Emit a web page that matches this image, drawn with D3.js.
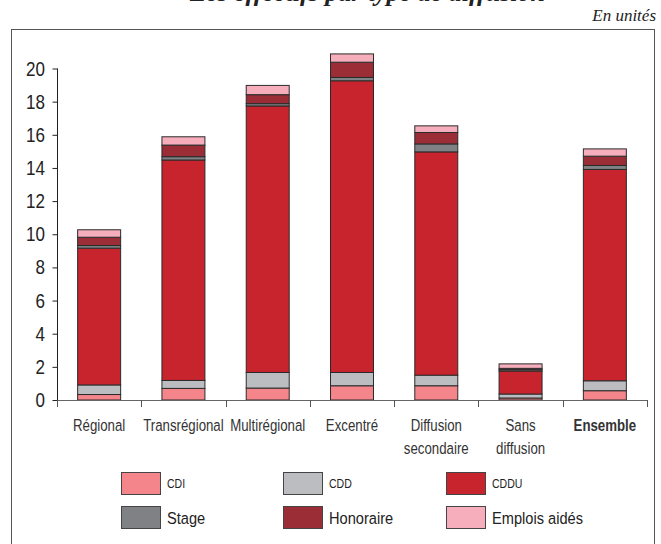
<!DOCTYPE html>
<html><head><meta charset="utf-8">
<script src="https://cdn.jsdelivr.net/npm/d3@7"></script>
<style>
body{margin:0;background:#fff;}
svg{display:block;}
</style></head>
<body><svg id="c" width="661" height="544"></svg>
<script>
const categories = ["Régional","Transrégional","Multirégional","Excentré","Diffusion secondaire","Sans diffusion","Ensemble"];
const labelLines = [["Régional"],["Transrégional"],["Multirégional"],["Excentré"],["Diffusion","secondaire"],["Sans","diffusion"],["Ensemble"]];
const seriesNames = ["CDI","CDD","CDDU","Stage","Honoraire","Emplois aidés"];
const CDI      = [0.33, 0.70, 0.72, 0.86, 0.86, 0.12, 0.56];
const CDD      = [0.58, 0.48, 0.94, 0.80, 0.64, 0.24, 0.60];
const CDDU     = [8.25, 13.30, 16.08, 17.60, 13.47, 1.39, 12.75];
const Stage    = [0.16, 0.20, 0.14, 0.20, 0.48, 0.08, 0.24];
const Honoraire= [0.50, 0.70, 0.54, 0.92, 0.69, 0.08, 0.56];
const Emplois  = [0.45, 0.50, 0.56, 0.50, 0.40, 0.27, 0.44];
const yTicks = [0,2,4,6,8,10,12,14,16,18,20];
const colors = ["#f4868b","#bcbdc1","#c8242d","#808184","#9a2d36","#f6aebc"];

const seriesArrays = [CDI,CDD,CDDU,Stage,Honoraire,Emplois];
const rows = categories.map((c,i)=>{const o={cat:c};seriesNames.forEach((s,j)=>o[s]=seriesArrays[j][i]);return o;});

const svg = d3.select("#c");
const SANS = "Liberation Sans, Arial, sans-serif";

function ctext(parent, x, y, str, size, sx, anchor, weight, fill){
  const g = parent.append("g").attr("transform",`translate(${x},${y}) scale(${sx},1)`);
  return g.append("text").attr("x",0).attr("y",0).attr("font-family",SANS)
    .attr("font-size",size).attr("text-anchor",anchor||"start")
    .attr("font-weight",weight||"normal").attr("fill",fill||"#222").text(str);
}

// title (cut off at top, as in reference)
svg.append("text").attr("x",190).attr("y",1)
  .attr("font-family","Liberation Serif, serif").attr("font-style","italic").attr("font-weight","bold")
  .attr("font-size",26).attr("fill","#222").text("Les effectifs par type de diffusion");
svg.append("text").attr("x",656).attr("y",21).attr("text-anchor","end")
  .attr("font-family","Liberation Serif, serif").attr("font-style","italic")
  .attr("font-size",17).attr("fill","#222").text("En unités");

// frame
svg.append("rect").attr("x",11.5).attr("y",29.5).attr("width",643).attr("height",530)
  .attr("fill","none").attr("stroke","#555").attr("stroke-width",1);

const x = d3.scaleBand().domain(categories).range([57,647]).paddingInner(0.49).paddingOuter(0.245);
const y = d3.scaleLinear().domain([0,20]).range([400,68.5]);

// y axis
const ya = svg.append("g").attr("transform","translate(57.5,0)")
  .call(d3.axisLeft(y).tickValues(yTicks).tickSize(5).tickSizeOuter(0).tickFormat(""));
ya.select(".domain").remove();
ya.append("line").attr("x1",0).attr("x2",0).attr("y1",y(20)).attr("y2",406).attr("stroke","#222");
ya.selectAll(".tick line").attr("stroke","#222");
yTicks.forEach(v=>{
  ctext(svg, 45, y(v)+7, String(v), 20, 0.85, "end", "normal", "#222");
});

// stacked bars
const stack = d3.stack().keys(seriesNames)(rows);
svg.append("g").selectAll("g").data(stack).join("g")
  .attr("fill",(d,i)=>colors[i])
  .selectAll("rect").data(d=>d).join("rect")
  .attr("x",d=>x(d.data.cat)).attr("width",x.bandwidth())
  .attr("y",d=>y(d[1])).attr("height",d=>y(d[0])-y(d[1]))
  .attr("stroke","#2b2b2b").attr("stroke-width",1);

// x axis line and boundary ticks
const xa = svg.append("g");
xa.append("line").attr("x1",57).attr("x2",647).attr("y1",400.5).attr("y2",400.5).attr("stroke","#666").attr("stroke-width",1.2);
const step = x.step();
d3.range(categories.length+1).forEach(i=>{
  const xx = Math.round(57 + i*step)+0.5;
  xa.append("line").attr("x1",xx).attr("x2",xx).attr("y1",400).attr("y2",407).attr("stroke","#555");
});
categories.forEach((c,i)=>{
  labelLines[i].forEach((ln,k)=>{
    ctext(xa, x(c)+x.bandwidth()/2, 431+k*23, ln, 17, 0.78, "middle", c==="Ensemble"?"bold":"normal", "#333");
  });
});

// legend
const legX = [121,283,446], legY = [472,506];
seriesNames.forEach((s,i)=>{
  const cx = legX[i%3], cy = legY[Math.floor(i/3)];
  svg.append("rect").attr("x",cx+0.5).attr("y",cy+0.5).attr("width",39).attr("height",22)
    .attr("fill",colors[i]).attr("stroke","#444");
  if(i<3) ctext(svg, cx+46, cy+16, s, 13.5, 0.78, "start", "normal", "#222");
  else ctext(svg, cx+46, cy+17.5, s, 17, 0.86, "start", "normal", "#222");
});
</script></body></html>
